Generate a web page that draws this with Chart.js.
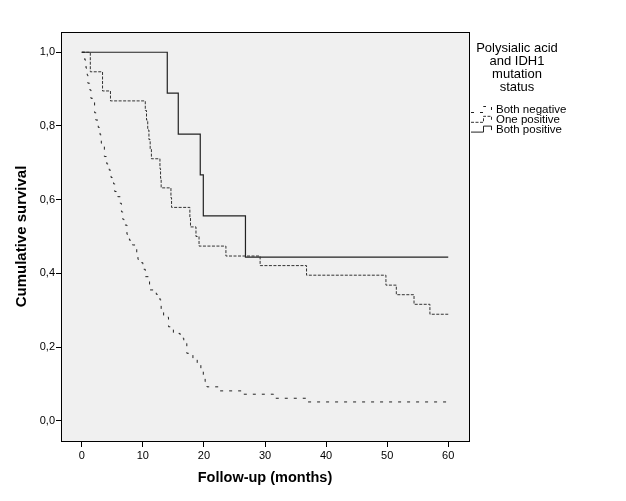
<!DOCTYPE html>
<html>
<head>
<meta charset="utf-8">
<script src="https://cdn.jsdelivr.net/npm/chart.js@4.4.1/dist/chart.umd.min.js"></script>
<style>
  html, body { margin: 0; padding: 0; background: #fff; }
  #wrap { width: 626px; height: 501px; }
</style>
</head>
<body>
<div id="wrap"><canvas id="kmChart" width="626" height="501"></canvas></div>
<script>
  // Kaplan-Meier steps (months, cumulative survival)
  const bothNegTime = [0, 0.5, 0.7, 0.9, 1.0, 1.3, 1.5, 2.1, 2.3, 2.7, 3.0, 3.2, 3.7, 4.1, 4.5, 4.8,
    5.2, 5.4, 5.9, 6.3, 6.5, 6.7, 6.9, 7.4, 7.8, 8.3, 9.0, 9.2, 9.5, 10.0, 10.4, 11.1, 12.2, 12.8,
    13.0, 13.4, 14.2, 15.0, 16.1, 16.7, 17.2, 18.2, 18.9, 19.5, 19.9, 20.2, 20.5, 22.4, 26.2, 31.4,
    36.8, 60];
  const bothNegSurv = [1, 0.979, 0.957, 0.938, 0.916, 0.898, 0.875, 0.836, 0.816, 0.796, 0.776, 0.753,
    0.717, 0.697, 0.680, 0.660, 0.643, 0.622, 0.608, 0.590, 0.567, 0.547, 0.531, 0.506, 0.490, 0.477,
    0.454, 0.438, 0.429, 0.411, 0.391, 0.355, 0.343, 0.328, 0.300, 0.281, 0.255, 0.237, 0.224, 0.210,
    0.183, 0.169, 0.151, 0.133, 0.119, 0.106, 0.092, 0.081, 0.072, 0.061, 0.051, 0.051];

  const onePosTime = [0, 1.4, 3.4, 4.7, 10.4, 10.6, 10.8, 11.0, 11.2, 11.4, 12.8, 12.9, 13.0, 14.6,
    14.7, 17.7, 17.8, 18.7, 19.2, 23.6, 29.2, 36.8, 49.8, 51.5, 54.4, 57.0, 60];
  const onePosSurv = [1, 0.947, 0.895, 0.868, 0.842, 0.816, 0.789, 0.763, 0.737, 0.711, 0.684, 0.658,
    0.632, 0.605, 0.579, 0.553, 0.526, 0.500, 0.474, 0.447, 0.421, 0.395, 0.368, 0.342, 0.316, 0.289,
    0.289];

  const bothPosTime = [0, 14.0, 15.8, 19.4, 19.9, 26.8, 60];
  const bothPosSurv = [1, 0.889, 0.778, 0.667, 0.556, 0.444, 0.444];

  const seriesNames = ['Both negative', 'One positive', 'Both positive'];
  const legendTitle = ['Polysialic acid', 'and IDH1', 'mutation', 'status'];
  const xTicks = [0, 10, 20, 30, 40, 50, 60];
  const yTicks = [0, 0.2, 0.4, 0.6, 0.8, 1.0];

  const FONT = '"Liberation Sans", Arial, sans-serif';
  Chart.defaults.font.family = FONT;
  Chart.defaults.color = '#000';

  function toPoints(times, surv) {
    return times.map((t, i) => ({ x: t, y: surv[i] }));
  }

  // grey plot panel, frame and the SPSS style legend at the right
  const framePlugin = {
    id: 'frame',
    beforeDraw(chart) {
      const { ctx, chartArea: a } = chart;
      ctx.save();
      ctx.fillStyle = '#fff';
      ctx.fillRect(0, 0, chart.width, chart.height);
      ctx.fillStyle = '#f0f0f0';
      ctx.fillRect(a.left, a.top, a.right - a.left, a.bottom - a.top);
      ctx.restore();
    },
    afterDraw(chart) {
      const { ctx, chartArea: a } = chart;
      ctx.save();
      ctx.strokeStyle = '#000';
      ctx.lineWidth = 1;
      ctx.strokeRect(Math.round(a.left) + 0.5, Math.round(a.top) + 0.5,
        Math.round(a.right - a.left), Math.round(a.bottom - a.top));

      // legend title
      ctx.fillStyle = '#000';
      ctx.font = '13px ' + FONT;
      ctx.textAlign = 'center';
      ctx.textBaseline = 'middle';
      legendTitle.forEach((line, i) => ctx.fillText(line, 517, 48 + i * 13));

      // legend entries
      ctx.font = '11.5px ' + FONT;
      ctx.textAlign = 'left';
      chart.data.datasets.forEach((ds, i) => {
        const y = 110 + i * 9.8;
        ctx.strokeStyle = ds.borderColor;
        ctx.lineWidth = 1;
        ctx.setLineDash(ds.borderDash || []);
        ctx.beginPath();
        ctx.moveTo(471, y + 2.5);
        ctx.lineTo(483.5, y + 2.5);
        ctx.lineTo(483.5, y - 3.5);
        ctx.lineTo(491.5, y - 3.5);
        ctx.lineTo(491.5, y + 0.5);
        ctx.stroke();
        ctx.setLineDash([]);
        ctx.fillText(ds.label, 496, y);
      });
      ctx.restore();
    }
  };

  const ctx = document.getElementById('kmChart').getContext('2d');
  new Chart(ctx, {
    type: 'line',
    data: {
      datasets: [
        {
          label: seriesNames[0],
          data: toPoints(bothNegTime, bothNegSurv),
          borderColor: '#222',
          borderWidth: 1,
          borderDash: [3, 6],
          stepped: 'before',
          pointRadius: 0,
          fill: false,
        },
        {
          label: seriesNames[1],
          data: toPoints(onePosTime, onePosSurv),
          borderColor: '#333',
          borderWidth: 1,
          borderDash: [3, 1.5],
          stepped: 'before',
          pointRadius: 0,
          fill: false,
        },
        {
          label: seriesNames[2],
          data: toPoints(bothPosTime, bothPosSurv),
          borderColor: '#222',
          borderWidth: 1.2,
          stepped: 'before',
          pointRadius: 0,
          fill: false,
        },
      ],
    },
    options: {
      responsive: false,
      animation: false,
      devicePixelRatio: 1,
      layout: { padding: { left: 0, top: 32, right: 157, bottom: 0 } },
      plugins: {
        legend: { display: false },
        tooltip: { enabled: false },
      },
      scales: {
        x: {
          type: 'linear',
          min: -3.4,
          max: 63.4,
          afterBuildTicks: (scale) => { scale.ticks = xTicks.map(v => ({ value: v })); },
          afterFit: (scale) => { scale.height = 60; },
          ticks: { font: { size: 11 }, color: '#000', padding: 2, autoSkip: false, maxRotation: 0 },
          grid: { drawOnChartArea: false, tickLength: 6, color: '#000', tickWidth: 1 },
          border: { color: '#000' },
          title: {
            display: true,
            text: 'Follow-up (months)',
            color: '#000',
            font: { size: 14.5, weight: 'bold' },
            padding: { top: 0, bottom: 14 },
          },
        },
        y: {
          type: 'linear',
          min: -0.055,
          max: 1.055,
          afterBuildTicks: (scale) => { scale.ticks = yTicks.map(v => ({ value: v })); },
          afterFit: (scale) => { scale.width = 61; },
          ticks: {
            font: { size: 11 },
            color: '#000',
            padding: 1,
            callback: (v) => v.toFixed(1).replace('.', ','),
          },
          grid: { drawOnChartArea: false, tickLength: 5, color: '#000', tickWidth: 1 },
          border: { color: '#000' },
          title: {
            display: true,
            text: 'Cumulative survival',
            color: '#000',
            font: { size: 15, weight: 'bold' },
            padding: { top: 13, bottom: 0 },
          },
        },
      },
    },
    plugins: [framePlugin],
  });
</script>
</body>
</html>
